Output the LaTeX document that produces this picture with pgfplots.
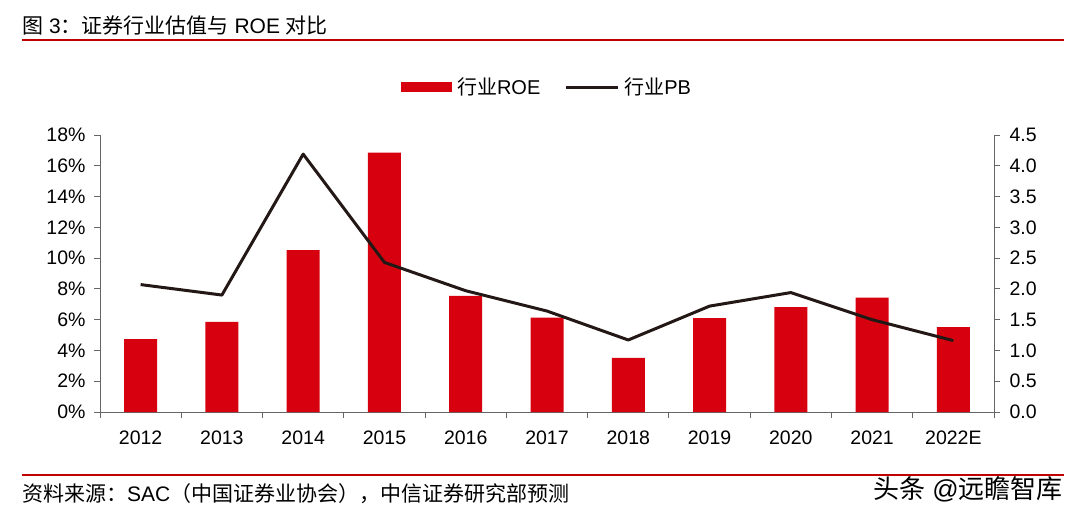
\documentclass[border=0pt]{standalone}
\usepackage{pgfplots}
\pgfplotsset{compat=1.18}
\usepackage{fontspec}
\setmainfont{Liberation Sans}
\newfontfamily\cjk{Noto Sans CJK SC}

\definecolor{barred}{HTML}{D7000F}
\definecolor{pbline}{HTML}{231815}
\definecolor{rule}{HTML}{C00000}
\definecolor{axgray}{HTML}{666666}

\begin{document}
\begin{tikzpicture}
\useasboundingbox (0bp,0bp) rectangle (1089bp,-520bp);

% title and rules
\node[anchor=west, inner sep=0pt] at (22bp,-26bp)
  {\fontsize{21bp}{25bp}\selectfont{\cjk 图} 3{\cjk ：证券行业估值与} ROE {\cjk 对比}};
\draw[rule, line width=1.6bp] (22bp,-40bp) -- (1064bp,-40bp);
\draw[rule, line width=1.6bp] (22bp,-475bp) -- (1064bp,-475bp);
\node[anchor=west, inner sep=0pt] at (22bp,-494bp)
  {\fontsize{21bp}{25bp}\selectfont{\cjk 资料来源：}SAC{\cjk （中国证券业协会），中信证券研究部预测}};
\node[anchor=west, inner sep=0pt] at (873bp,-489bp)
  {\fontsize{26bp}{30bp}\selectfont{\cjk 头条} @{\cjk 远瞻智库}};

\begin{axis}[
  at={(100bp,-412bp)}, anchor=south west,
  scale only axis, width=894bp, height=277bp,
  xmin=-0.5, xmax=10.5, ymin=0, ymax=18,
  axis x line*=bottom, axis y line*=left,
  axis line style={-, draw=axgray, line width=1bp},
  every outer x axis line/.append style={-},
  every outer y axis line/.append style={-},
  xtick={-0.5,0.5,1.5,2.5,3.5,4.5,5.5,6.5,7.5,8.5,9.5,10.5},
  x tick label as interval,
  xticklabels={2012,2013,2014,2015,2016,2017,2018,2019,2020,2021,2022E},
  ytick={0,2,4,6,8,10,12,14,16,18},
  yticklabel={\pgfmathprintnumber{\tick}\%},
  tick align=outside, major tick length=6bp,
  tick style={draw=axgray, line width=1bp},
  /pgf/number format/assume math mode=true,
  ticklabel style={font=\fontsize{19.5bp}{22bp}\selectfont},
  xticklabel style={yshift=-9bp},
  yticklabel style={xshift=-5bp},
  legend style={draw=none, fill=none, legend columns=2,
    at={(0.5,1.173)}, anchor=center,
    font=\fontsize{20bp}{23bp}\selectfont,
    /tikz/every odd column/.append style={column sep=3bp},
    /tikz/every even column/.append style={column sep=22bp}},
]
\addplot[ybar, bar width=33bp, fill=barred, draw=none,
  legend image code/.code={\fill[barred] (0bp,-5bp) rectangle (51bp,5bp);}]
  coordinates {
  (0,4.73) (1,5.86) (2,10.52) (3,16.85) (4,7.55) (5,6.14)
  (6,3.51) (7,6.10) (8,6.81) (9,7.44) (10,5.51)
  };
\addlegendentry{{\cjk 行业}ROE}
\addlegendimage{legend image code/.code={\draw[pbline, line width=3bp] (0bp,0bp) -- (52bp,0bp);}}
\addlegendentry{{\cjk 行业}PB}
\end{axis}

\begin{axis}[
  at={(100bp,-412bp)}, anchor=south west,
  scale only axis, width=894bp, height=277bp,
  xmin=-0.5, xmax=10.5, ymin=0, ymax=4.5,
  axis x line=none, axis y line*=right,
  axis line style={-, draw=axgray, line width=1bp},
  every outer y axis line/.append style={-},
  ytick={0,0.5,1,1.5,2,2.5,3,3.5,4,4.5},
  yticklabel style={/pgf/number format/fixed, /pgf/number format/fixed zerofill,
    /pgf/number format/precision=1, xshift=6bp},
  tick align=outside, major tick length=6bp,
  tick style={draw=axgray, line width=1bp},
  /pgf/number format/assume math mode=true,
  ticklabel style={font=\fontsize{19.5bp}{22bp}\selectfont},
]
\addplot[pbline, line width=3bp, line join=round, no markers]
  coordinates {
  (0,2.07) (1,1.90) (2,4.19) (3,2.43) (4,1.97) (5,1.64)
  (6,1.17) (7,1.72) (8,1.94) (9,1.50) (10,1.16)
  };
\end{axis}
\end{tikzpicture}
\end{document}
